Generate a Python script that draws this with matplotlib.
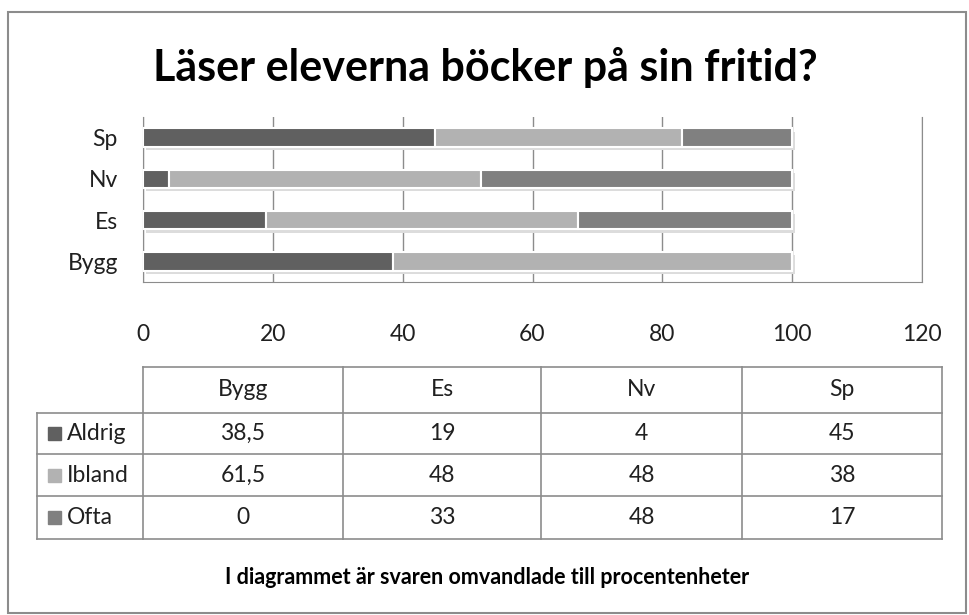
import numpy as np
import matplotlib.pyplot as plt
from matplotlib.patches import Rectangle

plt.rcParams['font.family'] = ['Lato', 'DejaVu Sans']

# data
categories = ["Bygg", "Es", "Nv", "Sp"]
series = ["Aldrig", "Ibland", "Ofta"]
aldrig = [38.5, 19, 4, 45]
ibland = [61.5, 48, 48, 38]
ofta = [0, 33, 48, 17]
colors = ["#606060", "#b2b2b2", "#808080"]
xticks = [0, 20, 40, 60, 80, 100, 120]

W, H = 970, 615
fig = plt.figure(figsize=(W / 100, H / 100), dpi=100)

def fx(px):
    return px / W

def fy(py):
    return 1 - py / H

# bar chart
ax = fig.add_axes([fx(143), fy(282), fx(922) - fx(143), fy(117) - fy(282)])
y = np.arange(len(categories))
left = np.zeros(len(categories))
for vals in [aldrig, ibland, ofta]:
    vals = np.array(vals, dtype=float)
    # soft shadow under the bars
    ax.barh(y - 0.08, vals, left=left + 0.4, height=0.45, color="#dcdcdc",
            edgecolor="none", zorder=2)
    left += vals
left = np.zeros(len(categories))
for vals, col in zip([aldrig, ibland, ofta], colors):
    vals = np.array(vals, dtype=float)
    ax.barh(y, vals, left=left, height=0.45, color=col, edgecolor="white",
            linewidth=1.5, zorder=3)
    left += vals

ax.set_xlim(0, 120)
ax.set_ylim(-0.5, 3.5)
ax.set_xticks(xticks)
ax.set_xticklabels([str(t) for t in xticks], fontsize=16.5, color="#202020")
ax.set_yticks(y)
ax.set_yticklabels(categories, fontsize=16.5, color="#202020")
ax.tick_params(axis="x", length=0, pad=30)
ax.tick_params(axis="y", length=0, pad=18)
ax.grid(axis="x", color="#8c8c8c", linewidth=1, zorder=1)
for s in ["left", "right", "bottom"]:
    ax.spines[s].set_color("#8c8c8c")
ax.spines["top"].set_visible(False)

# table + texts in pixel coordinates
tx = fig.add_axes([0, 0, 1, 1], zorder=-1)
tx.set_xlim(0, W)
tx.set_ylim(H, 0)
tx.axis("off")

tx.add_patch(Rectangle((8, 12), 958, 601, fill=False, edgecolor="#8c8c8c", linewidth=1.5))
tx.text(485, 68, "Läser eleverna böcker på sin fritid?", ha="center", va="center",
        fontsize=31, fontweight="bold", color="#000000")

col_x = [37, 143, 343, 541, 742, 942]
row_y = [367, 413, 454, 496, 539]
lc = "#8c8c8c"
tx.plot([col_x[1], col_x[-1]], [row_y[0], row_y[0]], color=lc, lw=1.2)
for r in row_y[1:]:
    tx.plot([col_x[0], col_x[-1]], [r, r], color=lc, lw=1.2)
tx.plot([col_x[0], col_x[0]], [row_y[1], row_y[-1]], color=lc, lw=1.2)
for c in col_x[1:]:
    tx.plot([c, c], [row_y[0], row_y[-1]], color=lc, lw=1.2)

for j, cat in enumerate(categories):
    cx = (col_x[j + 1] + col_x[j + 2]) / 2
    tx.text(cx, (row_y[0] + row_y[1]) / 2, cat, ha="center", va="center",
            fontsize=16.5, color="#202020")

def fmt(v):
    return str(int(v)) if float(v).is_integer() else str(v).replace(".", ",")

for i, (name, vals, col) in enumerate(zip(series, [aldrig, ibland, ofta], colors)):
    cy = (row_y[i + 1] + row_y[i + 2]) / 2
    tx.add_patch(Rectangle((48, cy - 6.5), 13, 13, color=col))
    tx.text(67, cy, name, ha="left", va="center", fontsize=16.5, color="#202020")
    for j, v in enumerate(vals):
        cx = (col_x[j + 1] + col_x[j + 2]) / 2
        tx.text(cx, cy, fmt(v), ha="center", va="center", fontsize=16.5, color="#202020")

tx.text(487, 577, "I diagrammet är svaren omvandlade till procentenheter", ha="center",
        va="center", fontsize=15.5, fontweight="bold", color="#000000")

fig.savefig("out.png", dpi=100)
